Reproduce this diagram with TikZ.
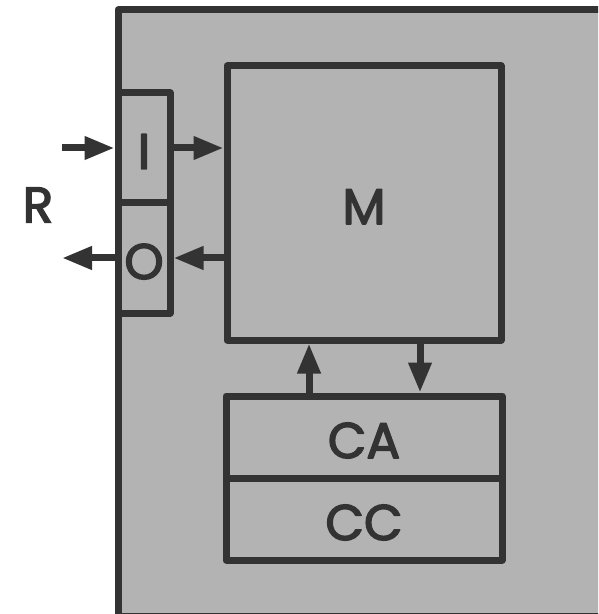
\documentclass[tikz,border=0pt]{standalone}
\usepackage{fontspec}
\setmainfont{Poppins}
\newfontfamily\labelfont{Poppins}[FakeBold=3]
\usetikzlibrary{arrows.meta}
\definecolor{boxgray}{HTML}{B3B3B3}
\definecolor{ink}{HTML}{333333}
\tikzset{
  unit/.style={draw=ink, fill=boxgray, line width=3.5pt, line join=round,
    inner sep=0pt, text=ink, font=\fontsize{25}{30}\labelfont,
    text height=21pt, text depth=0pt},
  flow/.style={draw=ink, line width=3.5pt,
    -{Triangle[length=15pt,width=11pt]}}
}
\begin{document}
\begin{tikzpicture}[x=0.5pt,y=-0.5pt]
  \useasboundingbox (0,0) rectangle (598,614);
  \clip (0,0) rectangle (598,614);
  % outer housing, running past the right and lower edges
  \filldraw[fill=boxgray,draw=ink,line width=3.5pt,line join=round] (118,10) rectangle (640,616);
  \node[unit,minimum width=26pt,minimum height=55pt] (I) at (144,148) {I};
  \node[unit,minimum width=26pt,minimum height=55pt] (O) at (144,258) {O};
  \node[unit,minimum width=137pt,minimum height=137pt] (M) at (364,203) {M};
  \node[unit,minimum width=138pt,minimum height=41pt] (CA) at (364,437) {CA};
  \node[unit,minimum width=138pt,minimum height=41pt] (CC) at (364,519) {CC};
  \node[text=ink,font=\fontsize{25}{30}\labelfont] (R) at (38,205) {R};
  \coordinate (rin) at (62,148);
  \coordinate (rout) at (62,258);
  \draw[flow] (rin) -- (I.west);
  \draw[flow] (I.east) -- (I.east -| M.west);
  \draw[flow] (M.west |- O.east) -- (O.east);
  \draw[flow] (O.west) -- (rout);
  \draw[flow] ([xshift=-27.5pt]CA.north) -- ([xshift=-27.5pt]M.south);
  \draw[flow] ([xshift=28pt]M.south) -- ([xshift=28pt]CA.north);
\end{tikzpicture}
\end{document}
